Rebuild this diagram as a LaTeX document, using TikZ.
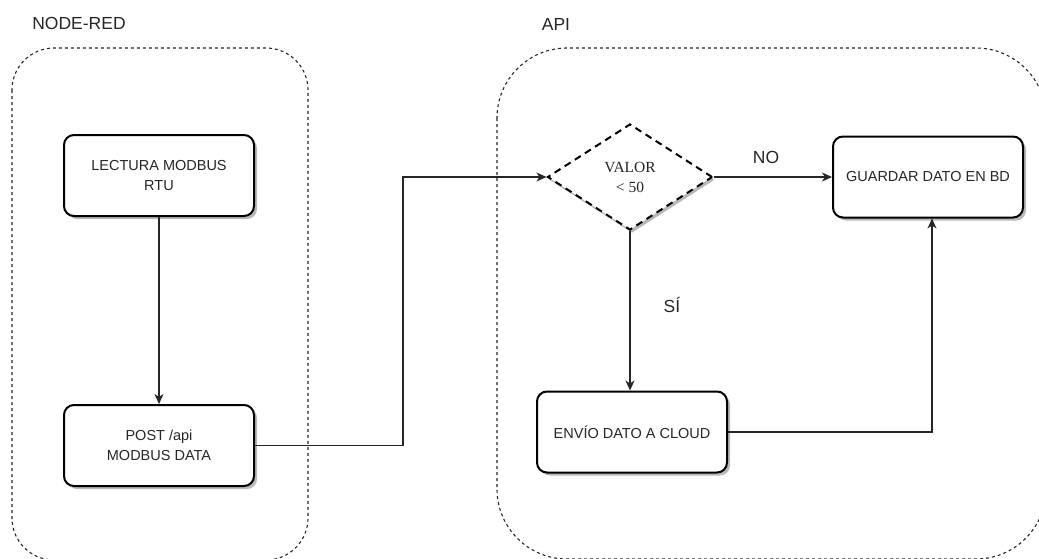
\documentclass[tikz,border=0pt]{standalone}
\usepackage{fontspec}
\setmainfont{Liberation Sans}
\newfontfamily\diaserif{Liberation Serif}
\usetikzlibrary{shapes.geometric,arrows.meta,shadows}
\begin{document}
\begin{tikzpicture}[x=1pt,y=-1pt,
  box/.style={draw=black, line width=2pt, rounded corners=10pt, minimum width=190pt, minimum height=81pt,
    fill=white, align=center, font=\fontsize{14.5}{20}\selectfont, text=black!85, inner sep=0pt,
    drop shadow={shadow xshift=3pt, shadow yshift=-3pt, fill=black!28, opacity=1}},
  decision/.style={shape=diamond, aspect=1.557, minimum width=165pt, minimum height=106pt, inner sep=0pt,
    draw=black, line width=2pt, dash pattern=on 7pt off 5pt, fill=white, align=center,
    font=\diaserif\fontsize{15.5}{20}\selectfont, text=black!85,
    drop shadow={shadow xshift=2pt, shadow yshift=-3pt, fill=black!28, opacity=1}},
  group/.style={draw=black!85, line width=1.1pt, dash pattern=on 3pt off 3pt},
  title/.style={font=\fontsize{17.5}{20}\selectfont, text=black!85, anchor=base, inner sep=0pt},
  conn/.style={draw=black!85, line width=1.2pt, -{Stealth[length=10pt,width=9pt,inset=3pt]}}
]
\useasboundingbox (0,0) rectangle (1039,558);
\clip (0,0) rectangle (1039,558);
\fill[white] (0,0) rectangle (1039,558);

% containers
\draw[group, rounded corners=42pt] (12,48) rectangle (308,560);
\draw[group, rounded corners=70pt] (497,48) rectangle (1046,559);

% titles
\node[title] (tnr) at (79,29) {NODE-RED};
\node[title] (tapi) at (556,30) {API};

% boxes
\node[box] (lec) at (159,175.5) {LECTURA MODBUS\\RTU};
\node[box] (post) at (159,445.5) {POST /api\\MODBUS DATA};
\node[box] (gua) at (928,177) {GUARDAR DATO EN BD};
\node[box] (env) at (632,432) {ENVÍO DATO A CLOUD};
\node[decision] (dia) at (630,177) {VALOR\\{<} 50};

% bend coordinates
\coordinate (b1) at (403,446);
\coordinate (b2) at (932,432);

% connectors
\draw[conn] (lec.south) -- (post.north);
\draw[conn] (post.east) -- (post.east -| b1) |- (dia.west);
\draw[conn] (dia.east) -- (gua.west);
\draw[conn] (dia.south) -- (dia.south |- env.north);
\draw[conn] (env.east) -| (gua.south -| b2);

% labels
\node[title] (lno) at (766,163) {NO};
\node[title] (lsi) at (672,312) {SÍ};
\end{tikzpicture}
\end{document}
